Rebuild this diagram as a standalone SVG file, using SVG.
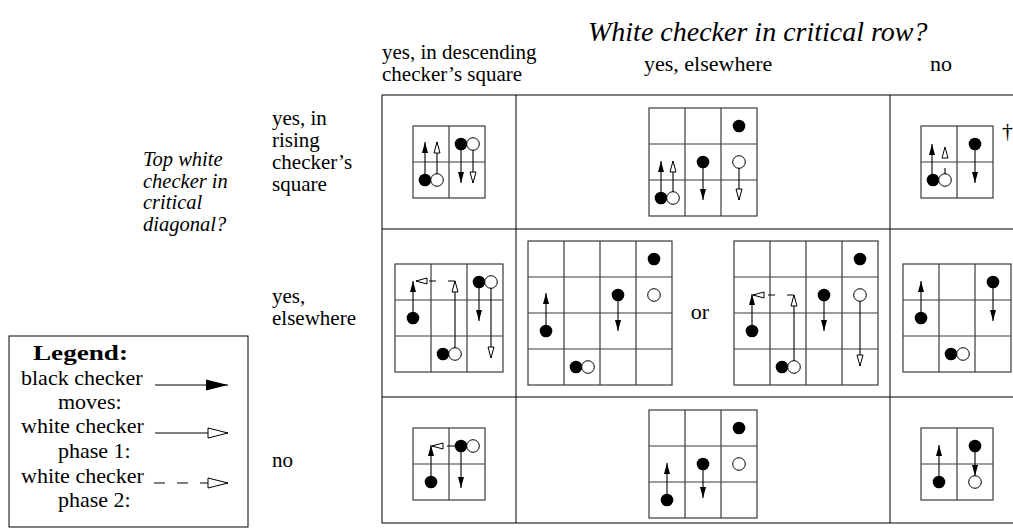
<svg xmlns="http://www.w3.org/2000/svg" width="1013" height="531" viewBox="0 0 1013 531">
<defs>
<style>
.t{font-family:"Liberation Serif",serif;font-size:22px;fill:#000}
.i{font-style:italic;font-size:20.5px}
.r{font-size:21px}
.g{fill:none;stroke:#3a3a3a;stroke-width:1.2}
.tb{fill:none;stroke:#000;stroke-width:1}
.b{fill:#000}
.w{fill:#fff;stroke:#000;stroke-width:1}
.ab{fill:none;stroke:#000;stroke-width:1.1;marker-end:url(#hb)}
.a1{fill:none;stroke:#000;stroke-width:1.1;marker-end:url(#hw)}
.a2{fill:none;stroke:#000;stroke-width:1.1;stroke-dasharray:7 12;marker-end:url(#hw)}
</style>
<marker id="hb" markerUnits="userSpaceOnUse" orient="auto" refX="0" refY="0" markerWidth="12" markerHeight="8" overflow="visible"><path d="M-11,-3 L0,0 L-11,3 z" fill="#000"/></marker>
<marker id="hw" markerUnits="userSpaceOnUse" orient="auto" refX="0" refY="0" markerWidth="12" markerHeight="8" overflow="visible"><path d="M-11,-3 L0,0 L-11,3 z" fill="#fff" stroke="#000" stroke-width="1"/></marker>
<marker id="hbL" markerUnits="userSpaceOnUse" orient="auto" refX="0" refY="0" markerWidth="22" markerHeight="12" overflow="visible"><path d="M-22,-5.5 L0,0 L-22,5.5 z" fill="#000"/></marker>
<marker id="hwL" markerUnits="userSpaceOnUse" orient="auto" refX="0" refY="0" markerWidth="22" markerHeight="12" overflow="visible"><path d="M-20,-5 L0,0 L-20,5 z" fill="#fff" stroke="#000" stroke-width="1"/></marker>
</defs>
<rect width="1013" height="531" fill="#fff"/>

<g id="headers" class="t">
<text x="588" y="41" font-style="italic" font-size="28">White checker in critical row?</text>
<text x="382" y="59" class="r">yes, in descending</text>
<text x="382" y="81" class="r">checker’s square</text>
<text x="644" y="71">yes, elsewhere</text>
<text x="930" y="71">no</text>
<text x="143" y="166" class="i">Top white</text>
<text x="143" y="187.5" class="i">checker in</text>
<text x="143" y="209" class="i">critical</text>
<text x="143" y="230.5" class="i">diagonal?</text>
<text x="272" y="125" class="r">yes, in</text>
<text x="272" y="147" class="r">rising</text>
<text x="272" y="169" class="r">checker’s</text>
<text x="272" y="191" class="r">square</text>
<text x="272" y="303" class="r">yes,</text>
<text x="272" y="325" class="r">elsewhere</text>
<text x="272" y="467" class="r">no</text>
</g>

<g id="table">
<rect class="tb" x="382" y="95" width="642" height="428"/>
<path class="tb" d="M516,95V523 M890,95V523 M382,229H1024 M382,397H1024"/>
</g>

<g id="cell-r1c1">
<rect class="g" x="413" y="126" width="72" height="72"/>
<path class="g" d="M449,126V198 M413,162H485"/>
<circle class="b" cx="425" cy="180" r="6.3"/><circle class="w" cx="437" cy="180" r="6.3"/>
<circle class="b" cx="461" cy="144" r="6.3"/><circle class="w" cx="473" cy="144" r="6.3"/>
</g>

<g id="cell-r1c2">
<rect class="g" x="649" y="108" width="108" height="108"/>
<path class="g" d="M685,108V216 M721,108V216 M649,144H757 M649,180H757"/>
<circle class="b" cx="739" cy="126" r="6.3"/>
<circle class="b" cx="703" cy="162" r="6.3"/><circle class="w" cx="739" cy="162" r="6.3"/>
<circle class="b" cx="661" cy="198" r="6.3"/><circle class="w" cx="673" cy="198" r="6.3"/>
</g>

<g id="cell-r1c3">
<rect class="g" x="921" y="126" width="72" height="72"/>
<path class="g" d="M957,126V198 M921,162H993"/>
<circle class="b" cx="933" cy="180" r="6.3"/><circle class="w" cx="945" cy="180" r="6.3"/>
<circle class="b" cx="975" cy="144" r="6.3"/>
<text class="t" x="1002" y="138" font-size="11">†</text>
</g>

<g id="cell-r2c1">
<rect class="g" x="395" y="264" width="108" height="108"/>
<path class="g" d="M431,264V372 M467,264V372 M395,300H503 M395,336H503"/>
<circle class="b" cx="413" cy="318" r="6.3"/>
<circle class="b" cx="443" cy="354" r="6.3"/><circle class="w" cx="455" cy="354" r="6.3"/>
<circle class="b" cx="479" cy="282" r="6.3"/><circle class="w" cx="491" cy="282" r="6.3"/>
</g>

<g id="cell-r2c2a">
<rect class="g" x="528" y="241" width="144" height="144"/>
<path class="g" d="M564,241V385 M600,241V385 M636,241V385 M528,277H672 M528,313H672 M528,349H672"/>
<circle class="b" cx="654" cy="259" r="6.3"/>
<circle class="w" cx="654" cy="295" r="6.3"/>
<circle class="b" cx="618" cy="295" r="6.3"/>
<circle class="b" cx="546" cy="331" r="6.3"/>
<circle class="b" cx="576" cy="367" r="6.3"/><circle class="w" cx="588" cy="367" r="6.3"/>
</g>

<text class="t" x="700" y="319" text-anchor="middle">or</text>

<g id="cell-r2c2b">
<rect class="g" x="734" y="241" width="144" height="144"/>
<path class="g" d="M770,241V385 M806,241V385 M842,241V385 M734,277H878 M734,313H878 M734,349H878"/>
<circle class="b" cx="860" cy="259" r="6.3"/>
<circle class="w" cx="860" cy="295" r="6.3"/>
<circle class="b" cx="824" cy="295" r="6.3"/>
<circle class="b" cx="752" cy="331" r="6.3"/>
<circle class="b" cx="782" cy="367" r="6.3"/><circle class="w" cx="794" cy="367" r="6.3"/>
</g>

<g id="cell-r2c3">
<rect class="g" x="903" y="264" width="108" height="108"/>
<path class="g" d="M939,264V372 M975,264V372 M903,300H1011 M903,336H1011"/>
<circle class="b" cx="921" cy="318" r="6.3"/>
<circle class="b" cx="993" cy="282" r="6.3"/>
<circle class="b" cx="951" cy="354" r="6.3"/><circle class="w" cx="963" cy="354" r="6.3"/>
</g>

<g id="cell-r3c1">
<rect class="g" x="413" y="428" width="72" height="72"/>
<path class="g" d="M449,428V500 M413,464H485"/>
<circle class="b" cx="431" cy="482" r="6.3"/>
<circle class="b" cx="461" cy="446" r="6.3"/><circle class="w" cx="473" cy="446" r="6.3"/>
</g>

<g id="cell-r3c2">
<rect class="g" x="649" y="410" width="108" height="108"/>
<path class="g" d="M685,410V518 M721,410V518 M649,446H757 M649,482H757"/>
<circle class="b" cx="739" cy="428" r="6.3"/>
<circle class="w" cx="739" cy="464" r="6.3"/>
<circle class="b" cx="703" cy="464" r="6.3"/>
<circle class="b" cx="667" cy="500" r="6.3"/>
</g>

<g id="cell-r3c3">
<rect class="g" x="921" y="428" width="72" height="72"/>
<path class="g" d="M957,428V500 M921,464H993"/>
<circle class="b" cx="939" cy="482" r="6.3"/>
<circle class="b" cx="975" cy="446" r="6.3"/>
<circle class="w" cx="975" cy="482" r="6.3"/>
</g>

<g id="legend">
<rect class="tb" x="9" y="336" width="239" height="191"/>
<text class="t" x="33" y="360" font-weight="bold" font-size="25" textLength="95" lengthAdjust="spacingAndGlyphs">Legend:</text>
<text class="t" x="21" y="385">black checker</text>
<text class="t" x="58" y="409">moves:</text>
<text class="t" x="21" y="433">white checker</text>
<text class="t" x="58" y="458">phase 1:</text>
<text class="t" x="21" y="483">white checker</text>
<text class="t" x="58" y="507">phase 2:</text>
</g>

<g id="connectors">
<path class="ab" d="M425,174V142"/>
<path class="a1" d="M437,174V142"/>
<path class="ab" d="M461,150V183"/>
<path class="a1" d="M473,150V183"/>

<path class="ab" d="M703,168V200"/>
<path class="a1" d="M739,168V200"/>
<path class="ab" d="M661,192V161"/>
<path class="a1" d="M673,192V161"/>

<path class="ab" d="M932,174V144"/>
<path class="a2" d="M945,174V147" style="stroke-dasharray:6 10"/>
<path class="ab" d="M975,150V183"/>

<path class="ab" d="M413,312V281"/>
<path class="a1" d="M455,348V281"/>
<path class="a2" d="M455,281H416"/>
<path class="ab" d="M479,288V321"/>
<path class="a1" d="M491,288V358"/>

<path class="ab" d="M618,301V331"/>
<path class="ab" d="M546,325V293"/>

<path class="a1" d="M860,301V366"/>
<path class="ab" d="M824,301V331"/>
<path class="ab" d="M752,325V294"/>
<path class="a1" d="M794,361V295"/>
<path class="a2" d="M794,295H753"/>

<path class="ab" d="M921,312V281"/>
<path class="ab" d="M993,288V321"/>

<path class="ab" d="M431,476V445"/>
<path class="ab" d="M461,452V488"/>
<path class="a2" d="M455,446H432" style="stroke-dasharray:8 12"/>

<path class="ab" d="M703,470V498"/>
<path class="ab" d="M667,494V463"/>

<path class="ab" d="M939,476V445"/>
<path class="ab" d="M975,452V476"/>

<path fill="none" stroke="#000" stroke-width="1.1" marker-end="url(#hbL)" d="M155,385H228"/>
<path fill="none" stroke="#000" stroke-width="1.1" marker-end="url(#hwL)" d="M155,433H228"/>
<path fill="none" stroke="#000" stroke-width="1.1" stroke-dasharray="11 12" marker-end="url(#hwL)" d="M154,483H228"/>
</g>
</svg>
